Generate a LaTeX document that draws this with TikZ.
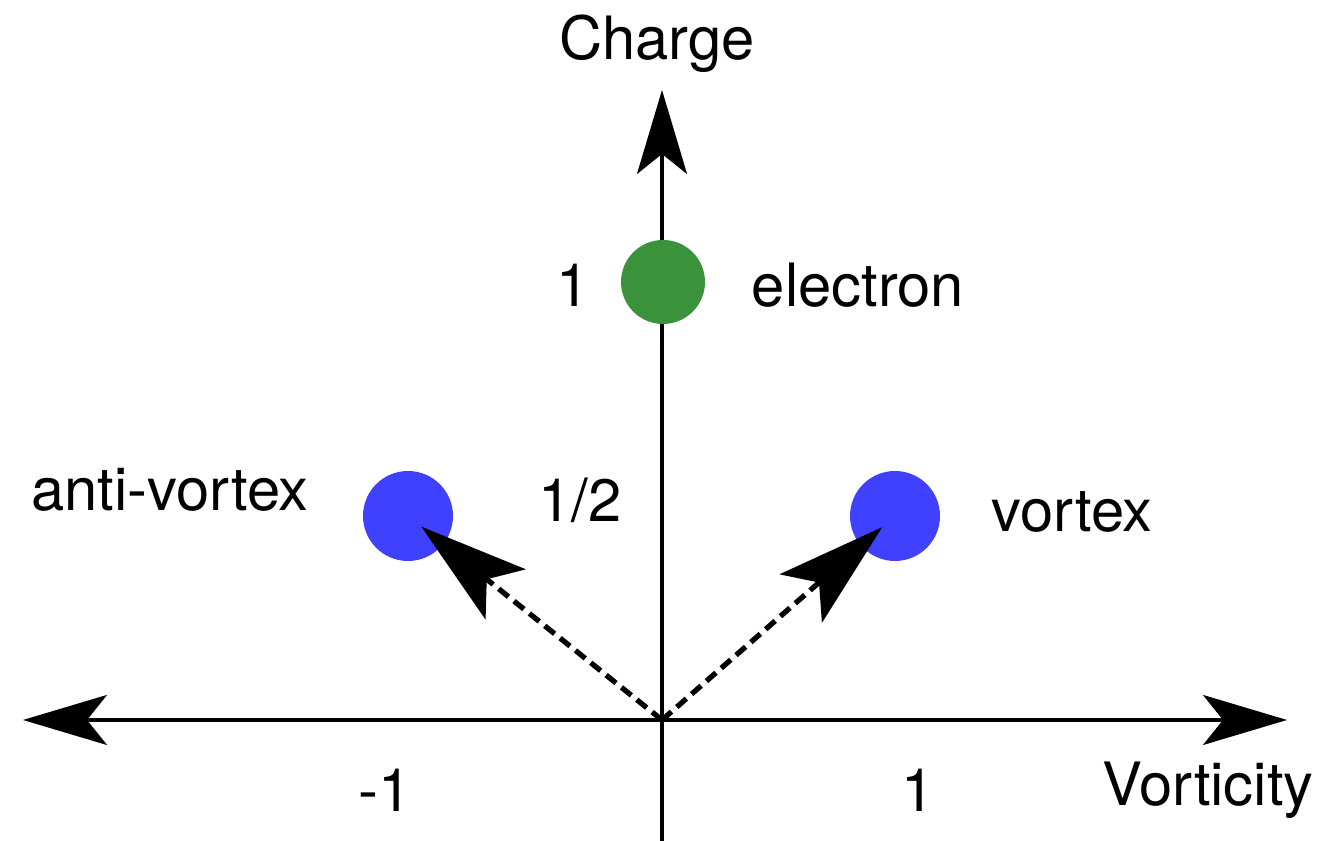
\documentclass[tikz,border=0pt]{standalone}
\usepackage{fontspec}
\setmainfont{TeX Gyre Heros}
\usetikzlibrary{arrows.meta}
\definecolor{elecgreen}{RGB}{58,146,58}
\definecolor{vortblue}{RGB}{64,64,255}
\begin{document}
\begin{tikzpicture}[line cap=butt,font=\fontsize{17}{20}\selectfont,
  axis/.style={line width=.9pt,-{Stealth[length=.84cm,width=.5cm,inset=.2cm]}},
  flow/.style={line width=1.5pt,dash pattern=on 3.6pt off 2pt,
    -{Stealth[length=1.08cm,width=.64cm,inset=.24cm]}},
  dot/.style={circle,inner sep=0pt,minimum size=#1},
  lbl/.style={inner sep=0pt}]
  \useasboundingbox (0,0) rectangle (13.42,8.41);
  % Vorticity/charge plane with the three excitations.
  \coordinate (o) at (6.62,1.21);
  \coordinate (ytop) at (6.62,7.51);
  \coordinate (ybot) at (6.62,0);
  \coordinate (xl) at (.23,1.21);
  \coordinate (xr) at (12.87,1.21);
  \draw[axis] (ybot) -- (ytop);
  \draw[axis] (o) -- (xl);
  \draw[axis] (o) -- (xr);
  \node[dot=.84cm,fill=elecgreen] (elec) at (6.63,5.59) {};
  \node[dot=.9cm,fill=vortblue] (avort) at (4.08,3.25) {};
  \node[dot=.9cm,fill=vortblue] (vort) at (8.95,3.25) {};
  \draw[flow,shorten >=.17cm] (o) -- (avort.center);
  \draw[flow,shorten >=.17cm] (o) -- (vort.center);
  \node[lbl] (charge) at (6.57,7.97) {Charge};
  \node[lbl] (qone) at (5.73,5.56) {1};
  \node[lbl] (elecname) at (8.58,5.56) {electron};
  \node[lbl] (avortname) at (1.70,3.51) {anti-vortex};
  \node[lbl] (qhalf) at (5.80,3.41) {1/2};
  \node[lbl] (vortname) at (10.72,3.29) {vortex};
  \node[lbl] (wneg) at (3.85,.51) {-1};
  \node[lbl] (wpos) at (9.18,.51) {1};
  \node[lbl] (vorticity) at (12.08,.51) {Vorticity};
\end{tikzpicture}
\end{document}
